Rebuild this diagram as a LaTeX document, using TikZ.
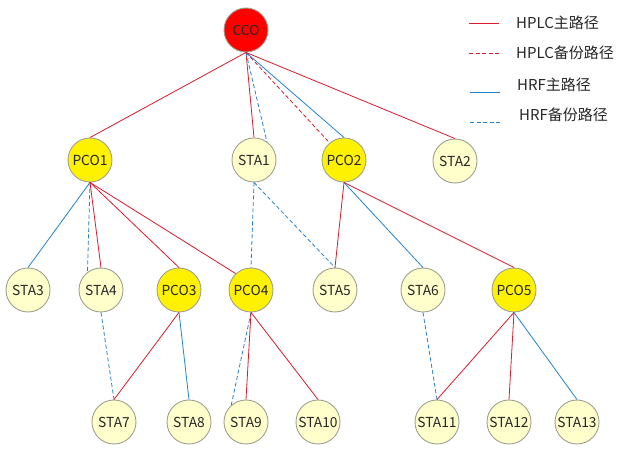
\documentclass[tikz,border=0pt]{standalone}
\usepackage{fontspec}
\setmainfont{Noto Sans CJK SC}
\definecolor{plcred}{RGB}{220,25,45}
\definecolor{rfblue}{RGB}{35,130,205}
\definecolor{lightyellow}{RGB}{255,255,204}
\definecolor{ringgray}{RGB}{160,160,145}

\begin{document}
\begin{tikzpicture}[x=1pt,y=-1pt,
  stanode/.style={circle,draw=ringgray,line width=0.9pt,fill=lightyellow,minimum size=44pt,inner sep=0pt,font=\fontsize{13.8}{15}\selectfont,text=black!85},
  pconode/.style={stanode,fill=yellow},
  cconode/.style={stanode,fill=red},
  plc/.style={plcred,line width=0.8pt},
  plcbak/.style={plc,dash pattern=on 4pt off 2.5pt},
  rf/.style={rfblue,line width=0.8pt},
  rfbak/.style={rf,dash pattern=on 4pt off 2.5pt},
  legtext/.style={anchor=west,inner sep=0pt,font=\fontsize{15}{17}\selectfont,text=black!85}]

\useasboundingbox (0,0) rectangle (622,454);

\node [cconode] (cco) at (246,30) {CCO};

\node [pconode] (pco1) at (90,160) {PCO1};
\node [stanode] (sta1) at (254,160) {STA1};
\node [pconode] (pco2) at (344,160) {PCO2};
\node [stanode] (sta2) at (455,161) {STA2};

\node [stanode] (sta3) at (28,290) {STA3};
\node [stanode] (sta4) at (101,290) {STA4};
\node [pconode] (pco3) at (179,290) {PCO3};
\node [pconode] (pco4) at (251,290) {PCO4};
\node [stanode] (sta5) at (335,290) {STA5};
\node [stanode] (sta6) at (423,290) {STA6};
\node [pconode] (pco5) at (514,290) {PCO5};

\node [stanode] (sta7) at (114,422) {STA7};
\node [stanode] (sta8) at (189,422) {STA8};
\node [stanode] (sta9) at (246,422) {STA9};
\node [stanode] (sta10) at (318,422) {STA10};
\node [stanode] (sta11) at (437,422) {STA11};
\node [stanode] (sta12) at (509,422) {STA12};
\node [stanode] (sta13) at (577,422) {STA13};

\draw [plc] (cco.south) -- (pco1.north);
\draw [plc] (cco.south) -- (sta1.north);
\draw [rfbak] (cco.south) -- (sta1.55);
\draw [plcbak] (cco.south) -- (pco2.130);
\draw [rf] (cco.south) -- (pco2.north);
\draw [plc] (cco.south) -- (sta2.north);

\draw [rf] (pco1.south) -- (sta3.north);
\draw [rfbak] (pco1.south) -- (sta4.127);
\draw [plc] (pco1.south) -- (sta4.north);
\draw [plc] (pco1.south) -- (pco3.north);
\draw [plc] (pco1.south) -- (pco4.133);

\draw [rfbak] (sta1.south) -- (pco4.north);
\draw [rfbak] (sta1.south) -- (sta5.north);

\draw [plc] (pco2.south) -- (sta5.north);
\draw [rf] (pco2.south) -- (sta6.north);
\draw [plc] (pco2.south) -- (pco5.north);

\draw [rfbak] (sta4.south) -- (sta7.north);
\draw [plc] (pco3.south) -- (sta7.north);
\draw [rf] (pco3.south) -- (sta8.north);
\draw [rfbak] (pco4.south) -- (sta9.131);
\draw [plc] (pco4.south) -- (sta9.north);
\draw [plc] (pco4.south) -- (sta10.north);
\draw [rfbak] (sta6.south) -- (sta11.north);
\draw [plc] (pco5.south) -- (sta11.north);
\draw [plc] (pco5.south) -- (sta12.north);
\draw [rf] (pco5.south) -- (sta13.north);

\coordinate (leg1a) at (469,23);  \coordinate (leg1b) at (499,23);
\coordinate (leg2a) at (469,53);  \coordinate (leg2b) at (499,53);
\coordinate (leg3a) at (470,92);  \coordinate (leg3b) at (500,92);
\coordinate (leg4a) at (470,122); \coordinate (leg4b) at (500,122);
\draw [plc] (leg1a) -- (leg1b);
\draw [plcbak] (leg2a) -- (leg2b);
\draw [rf] (leg3a) -- (leg3b);
\draw [rfbak] (leg4a) -- (leg4b);
\node [legtext] (leg1) at (516,23) {HPLC主路径};
\node [legtext] (leg2) at (516,53) {HPLC备份路径};
\node [legtext] (leg3) at (517,85) {HRF主路径};
\node [legtext] (leg4) at (519,115) {HRF备份路径};

\end{tikzpicture}
\end{document}
